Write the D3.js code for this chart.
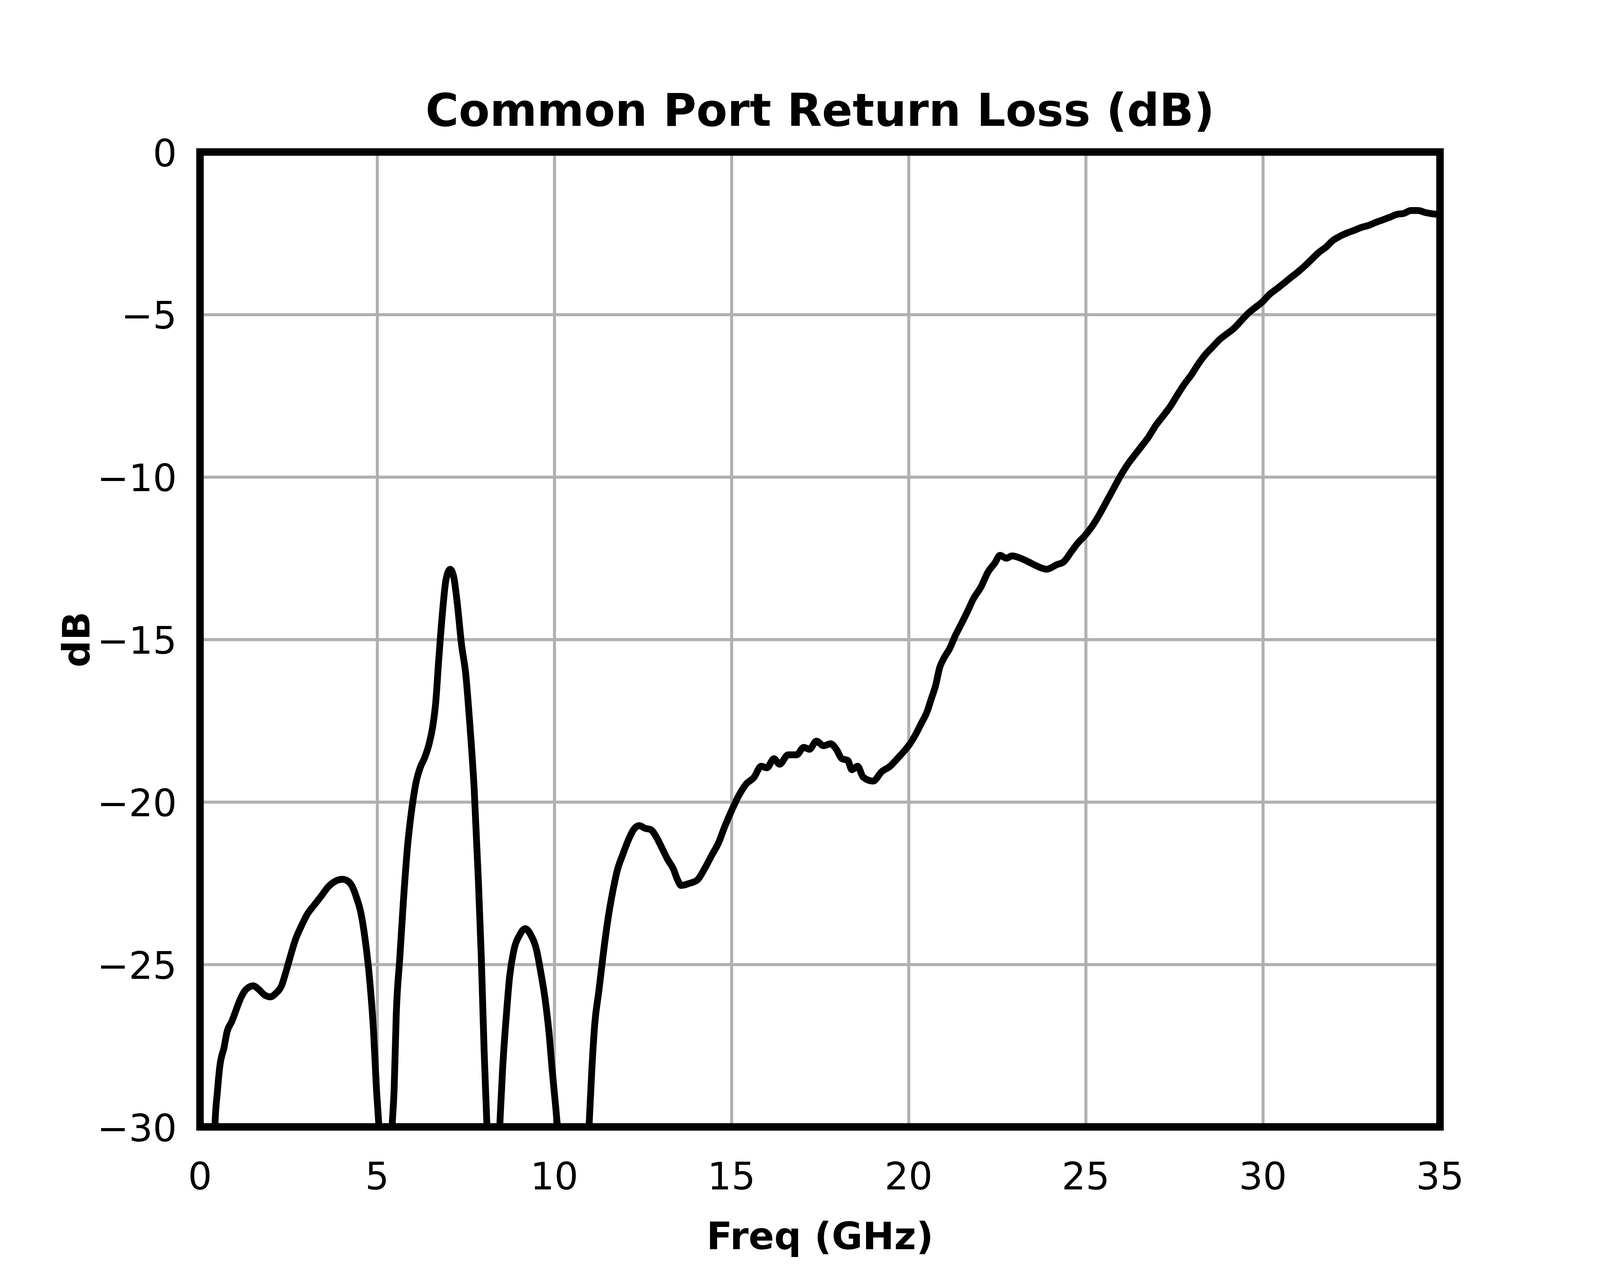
<!DOCTYPE html>
<html>
<head>
<meta charset="utf-8">
<script src="https://cdn.jsdelivr.net/npm/d3@7"></script>
<style>
  html, body { margin: 0; padding: 0; background: #fff; overflow: hidden; }
  svg { display: block; font-family: "DejaVu Sans", sans-serif; }
</style>
</head>
<body>
<svg id="chart"></svg>
<script>
// values
const freq = [
  0.35, 0.42, 0.49, 0.56, 0.68, 0.76, 0.90, 1.02, 1.14, 1.30, 1.50, 1.66, 1.82, 1.98,
  2.14, 2.30, 2.42, 2.54, 2.70, 2.86, 3.02, 3.22, 3.42, 3.62, 3.82, 4.02, 4.18, 4.30,
  4.42, 4.54, 4.66, 4.78, 4.90, 4.98, 5.05, 5.20, 5.42, 5.48, 5.54, 5.64, 5.74, 5.86,
  5.98, 6.10, 6.22, 6.34, 6.46, 6.57, 6.65, 6.74, 6.84, 6.94, 7.06, 7.16, 7.26, 7.38,
  7.50, 7.62, 7.74, 7.86, 7.94, 8.02, 8.10, 8.25, 8.46, 8.54, 8.65, 8.74, 8.86, 9.02,
  9.18, 9.34, 9.50, 9.62, 9.74, 9.85, 9.94, 10.04, 10.09, 10.50, 10.98, 11.06, 11.14,
  11.26, 11.38, 11.53, 11.66, 11.78, 11.94, 12.08, 12.24, 12.40, 12.56, 12.72, 12.88,
  13.04, 13.20, 13.36, 13.48, 13.58, 13.80, 14.04, 14.24, 14.44, 14.64, 14.80, 15.00,
  15.20, 15.40, 15.64, 15.84, 16.00, 16.20, 16.36, 16.60, 16.84, 17.04, 17.20, 17.40,
  17.60, 17.80, 17.96, 18.12, 18.28, 18.40, 18.56, 18.72, 19.00, 19.24, 19.48, 19.68,
  19.92, 20.04, 20.20, 20.36, 20.52, 20.64, 20.76, 20.88, 21.00, 21.16, 21.32, 21.48,
  21.64, 21.84, 22.04, 22.24, 22.44, 22.58, 22.76, 22.92, 23.16, 23.40, 23.58, 23.90,
  24.18, 24.38, 24.58, 24.78, 24.98, 25.18, 25.38, 25.58, 25.78, 25.98, 26.18, 26.38,
  26.58, 26.78, 26.98, 27.18, 27.38, 27.58, 27.78, 27.98, 28.18, 28.38, 28.58, 28.78,
  28.98, 29.18, 29.38, 29.58, 29.78, 29.98, 30.18, 30.38, 30.58, 30.78, 30.98, 31.18,
  31.38, 31.58, 31.78, 31.98, 32.18, 32.38, 32.58, 32.78, 32.98, 33.18, 33.38, 33.58,
  33.78, 33.98, 34.18, 34.38, 34.58, 34.78, 34.94, 35.00
];
const returnLoss = [
  -36, -30, -28.93, -28.13, -27.55, -27.09, -26.75, -26.40, -26.06, -25.77, -25.66, -25.77, -25.94, -26.00,
  -25.89, -25.66, -25.25, -24.79, -24.22, -23.82, -23.47, -23.18, -22.90, -22.61, -22.44, -22.38, -22.44, -22.61,
  -22.95, -23.41, -24.22, -25.37, -27.09, -28.82, -30, -34, -30, -28.82, -26.52, -24.79, -23.07, -21.34,
  -20.20, -19.39, -18.93, -18.64, -18.24, -17.67, -16.98, -15.60, -14.22, -13.18, -12.84, -13.07, -13.87, -15.14,
  -16.06, -17.67, -19.62, -22.49, -24.79, -27.67, -30, -35, -30, -28.24, -26.52, -25.37, -24.56, -24.10,
  -23.90, -24.10, -24.56, -25.25, -26.06, -27.09, -28.24, -29.39, -30, -36, -30, -28.24, -26.86,
  -25.80, -24.70, -23.50, -22.70, -22.10, -21.60, -21.20, -20.85, -20.73, -20.81, -20.85, -21.08,
  -21.42, -21.77, -22.06, -22.40, -22.57, -22.51, -22.40, -22.06, -21.65, -21.25, -20.79, -20.28,
  -19.82, -19.47, -19.24, -18.90, -18.95, -18.67, -18.84, -18.55, -18.55, -18.32, -18.38, -18.13,
  -18.27, -18.21, -18.38, -18.67, -18.72, -19.01, -18.90, -19.24, -19.36, -19.07, -18.90, -18.67,
  -18.38, -18.21, -17.92, -17.58, -17.23, -16.83, -16.43, -15.86, -15.57, -15.28, -14.88, -14.54,
  -14.19, -13.73, -13.39, -12.93, -12.64, -12.41, -12.50, -12.43, -12.50, -12.62, -12.72, -12.84,
  -12.70, -12.61, -12.32, -12.03, -11.80, -11.52, -11.17, -10.77, -10.37, -9.97, -9.62, -9.33,
  -9.05, -8.76, -8.41, -8.13, -7.84, -7.49, -7.15, -6.86, -6.52, -6.23, -6.00, -5.77,
  -5.60, -5.43, -5.20, -4.97, -4.79, -4.62, -4.39, -4.22, -4.05, -3.87, -3.70, -3.51,
  -3.30, -3.09, -2.93, -2.72, -2.59, -2.49, -2.41, -2.32, -2.26, -2.17, -2.09, -2.01,
  -1.92, -1.89, -1.80, -1.80, -1.86, -1.90, -1.92, -1.93
];
const xTicks = [0, 5, 10, 15, 20, 25, 30, 35];
const yTicks = [0, -5, -10, -15, -20, -25, -30];

const titleText = "Common Port Return Loss (dB)";
const xLabelText = "Freq (GHz)";
const yLabelText = "dB";

// layout is worked out for a 5400 x 3240 page, then stretched to the real window
const W = window.innerWidth || 5400, H = window.innerHeight || 3240;
const sx = W / 5400, sy = H / 3240;
const k = Math.sqrt(sx * sy); // for text sizes and stroke widths

const plotLeft = 675 * sx, plotRight = 4860 * sx, plotTop = 389 * sy, plotBottom = 2884 * sy;

const svg = d3.select("#chart").attr("width", W).attr("height", H);

const x = d3.scaleLinear().domain([0, 35]).range([plotLeft, plotRight]);
const y = d3.scaleLinear().domain([-30, 0]).range([plotBottom, plotTop]);

const points = freq.map((f, i) => ({ f: f, v: returnLoss[i] }));

// clip so the dips below -30 are cut at the frame
svg.append("defs").append("clipPath")
  .attr("id", "plotClip")
  .append("rect")
  .attr("x", plotLeft).attr("y", plotTop)
  .attr("width", plotRight - plotLeft).attr("height", plotBottom - plotTop);

// grid, drawn with the axes (labels stripped, ticks stretched into grid lines)
const gridColor = "#b0b0b0";
svg.append("g")
  .attr("transform", `translate(0,${plotBottom})`)
  .call(d3.axisBottom(x).tickValues(xTicks).tickSize(-(plotBottom - plotTop)).tickFormat(""))
  .call(g => g.select(".domain").remove())
  .call(g => g.selectAll("line").attr("stroke", gridColor).attr("stroke-width", 8.9 * k));

svg.append("g")
  .attr("transform", `translate(${plotLeft},0)`)
  .call(d3.axisLeft(y).tickValues(yTicks).tickSize(-(plotRight - plotLeft)).tickFormat(""))
  .call(g => g.select(".domain").remove())
  .call(g => g.selectAll("line").attr("stroke", gridColor).attr("stroke-width", 8.9 * k));

// the trace
const line = d3.line()
  .x(d => x(d.f))
  .y(d => y(d.v))
  .curve(d3.curveMonotoneX);

svg.append("path")
  .datum(points)
  .attr("clip-path", "url(#plotClip)")
  .attr("fill", "none")
  .attr("stroke", "#000")
  .attr("stroke-width", 20 * k)
  .attr("stroke-linejoin", "round")
  .attr("d", line);

// frame
svg.append("rect")
  .attr("x", plotLeft).attr("y", plotTop)
  .attr("width", plotRight - plotLeft).attr("height", plotBottom - plotTop)
  .attr("fill", "none")
  .attr("stroke", "#000")
  .attr("stroke-width", 22 * k);

// tick labels
const fmt = v => (v < 0 ? "\u2212" + Math.abs(v) : String(v));
const tickSize = 111 * k;

svg.append("g")
  .selectAll("text")
  .data(xTicks)
  .join("text")
  .attr("x", d => x(d))
  .attr("y", plotBottom + 160 * sy)
  .attr("text-anchor", "middle")
  .attr("font-size", tickSize)
  .text(fmt);

svg.append("g")
  .selectAll("text")
  .data(yTicks)
  .join("text")
  .attr("x", plotLeft - 78 * sx)
  .attr("y", d => y(d) + 0.378 * tickSize)
  .attr("text-anchor", "end")
  .attr("font-size", tickSize)
  .text(fmt);

// title and axis labels
const midX = (plotLeft + plotRight) / 2;

svg.append("text")
  .attr("x", midX)
  .attr("y", 322 * sy)
  .attr("text-anchor", "middle")
  .attr("font-size", 133 * k)
  .attr("font-weight", "bold")
  .text(titleText);

svg.append("text")
  .attr("x", midX)
  .attr("y", 3197 * sy)
  .attr("text-anchor", "middle")
  .attr("font-size", 111 * k)
  .attr("font-weight", "bold")
  .text(xLabelText);

svg.append("text")
  .attr("transform", `translate(${302 * sx},${(plotTop + plotBottom) / 2}) rotate(-90)`)
  .attr("text-anchor", "middle")
  .attr("font-size", 111 * k)
  .attr("font-weight", "bold")
  .text(yLabelText);
</script>
</body>
</html>
